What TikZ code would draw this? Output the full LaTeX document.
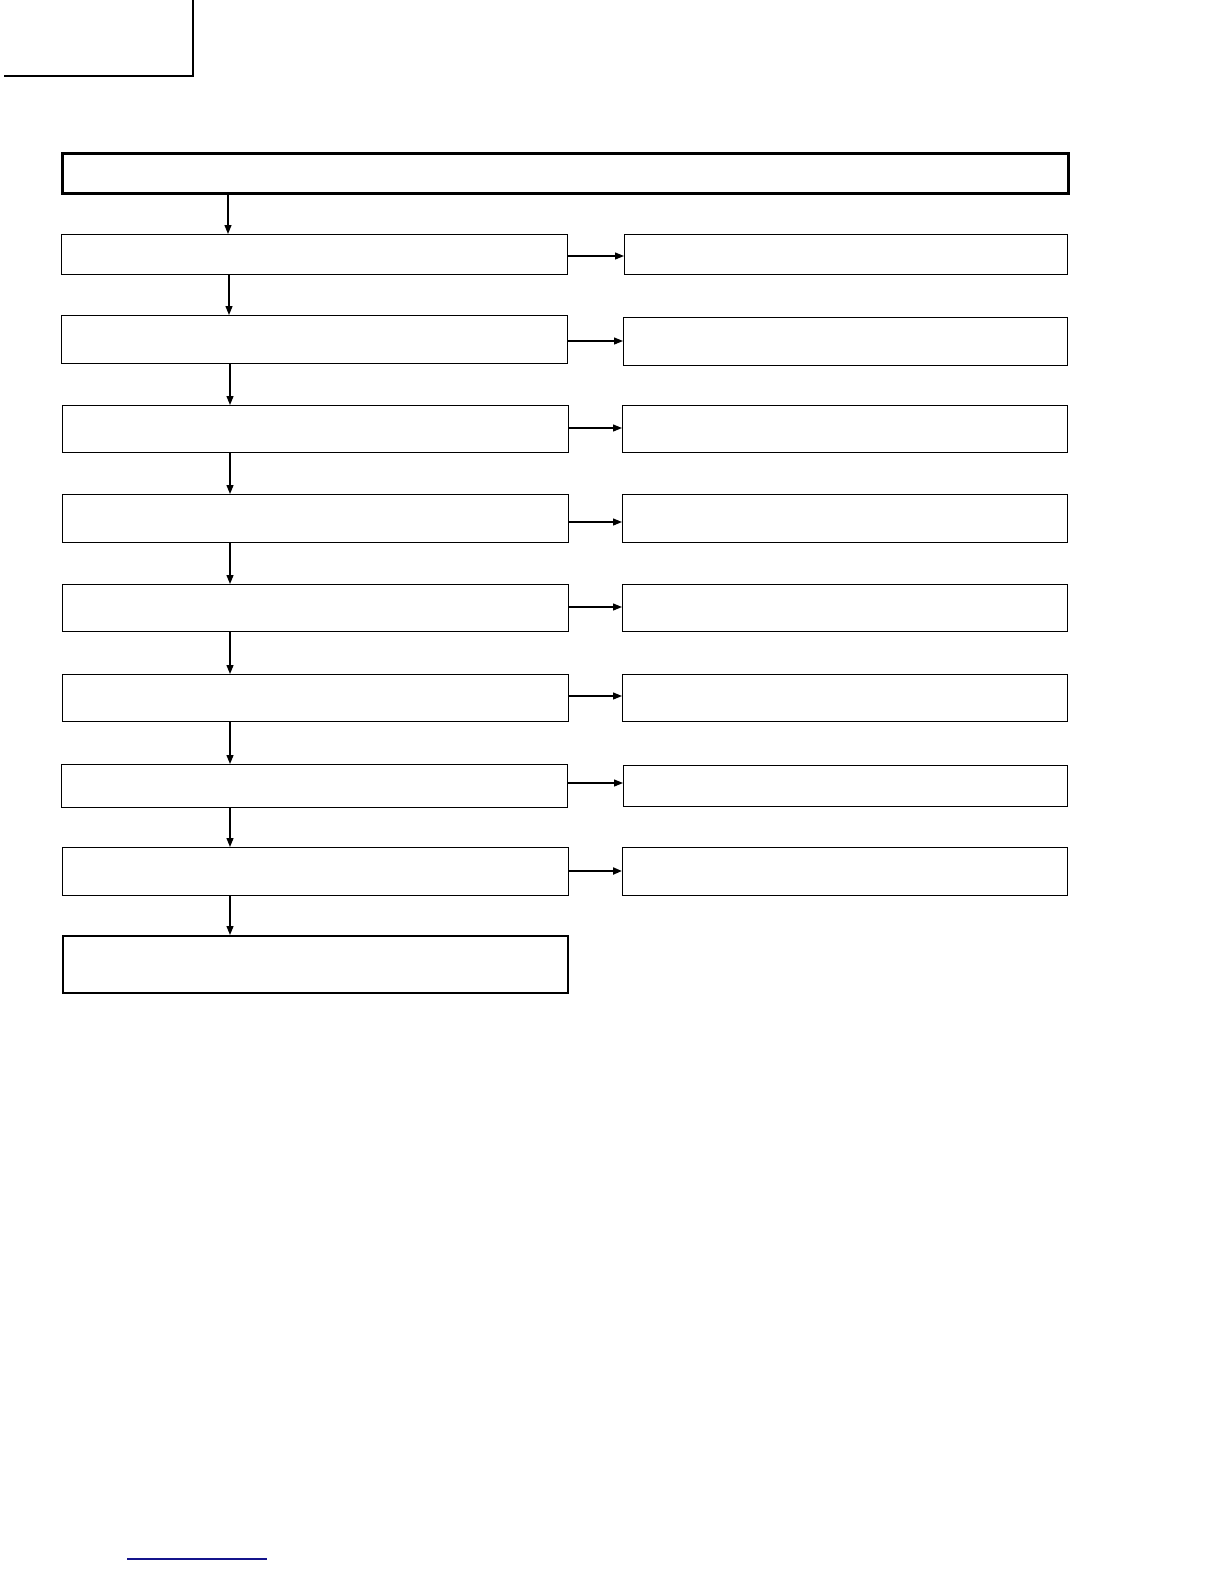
\documentclass[tikz,border=0pt]{standalone}
\usetikzlibrary{arrows.meta}
\definecolor{navyline}{RGB}{20,20,140}
\begin{document}
\begin{tikzpicture}[x=1pt,y=-1pt,
  box/.style={draw=black,line width=1.2pt,inner sep=0pt},
  arr/.style={line width=1.2pt,-{Triangle[length=9pt,width=7pt]}}]
\useasboundingbox (0,0) rectangle (1224,1584);
\newcommand{\bx}[5]{\node[box,minimum width={#4-#2},minimum height={#5-#3},anchor=north west] (#1) at (#2,#3) {};}
% corner mark
\draw[line width=2.5pt] (4,76) -- (193,76) -- (193,0);
% top box
\node[box,line width=2.6pt,minimum width=1006,minimum height=40,anchor=north west] (T) at (61,152) {};
% left column
\bx{L1}{61}{234}{567}{274}
\bx{L2}{61}{315}{567}{363}
\bx{L3}{62}{405}{568}{452}
\bx{L4}{62}{494}{568}{542}
\bx{L5}{62}{584}{568}{631}
\bx{L6}{62}{674}{568}{721}
\bx{L7}{61}{764}{567}{807}
\bx{L8}{62}{847}{568}{895}
\node[box,line width=1.6pt,minimum width=505,minimum height=57,anchor=north west] (L9) at (62,935) {};
% right column
\bx{R1}{624}{234}{1067}{274}
\bx{R2}{623}{317}{1067}{365}
\bx{R3}{622}{405}{1067}{452}
\bx{R4}{622}{494}{1067}{542}
\bx{R5}{622}{584}{1067}{631}
\bx{R6}{622}{674}{1067}{721}
\bx{R7}{623}{765}{1067}{806}
\bx{R8}{622}{847}{1067}{895}
% vertical arrows
\draw[arr] (T.south -| 228,0) -- (L1.north -| 228,0);
\draw[arr] (L1.south -| 229,0) -- (L2.north -| 229,0);
\draw[arr] (L2.south -| 230,0) -- (L3.north -| 230,0);
\draw[arr] (L3.south -| 230,0) -- (L4.north -| 230,0);
\draw[arr] (L4.south -| 230,0) -- (L5.north -| 230,0);
\draw[arr] (L5.south -| 230,0) -- (L6.north -| 230,0);
\draw[arr] (L6.south -| 230,0) -- (L7.north -| 230,0);
\draw[arr] (L7.south -| 230,0) -- (L8.north -| 230,0);
\draw[arr] (L8.south -| 230,0) -- (L9.north -| 230,0);
% horizontal arrows
\draw[arr] (L1.east |- 0,256) -- (R1.west |- 0,256);
\draw[arr] (L2.east |- 0,341) -- (R2.west |- 0,341);
\draw[arr] (L3.east |- 0,428) -- (R3.west |- 0,428);
\draw[arr] (L4.east |- 0,522) -- (R4.west |- 0,522);
\draw[arr] (L5.east |- 0,607) -- (R5.west |- 0,607);
\draw[arr] (L6.east |- 0,696) -- (R6.west |- 0,696);
\draw[arr] (L7.east |- 0,783) -- (R7.west |- 0,783);
\draw[arr,line width=2pt] (L8.east |- 0,871) -- (R8.west |- 0,871);
% bottom blue rule
\draw[navyline,line width=1.2pt] (127,1559) -- (267,1559);
\end{tikzpicture}
\end{document}
